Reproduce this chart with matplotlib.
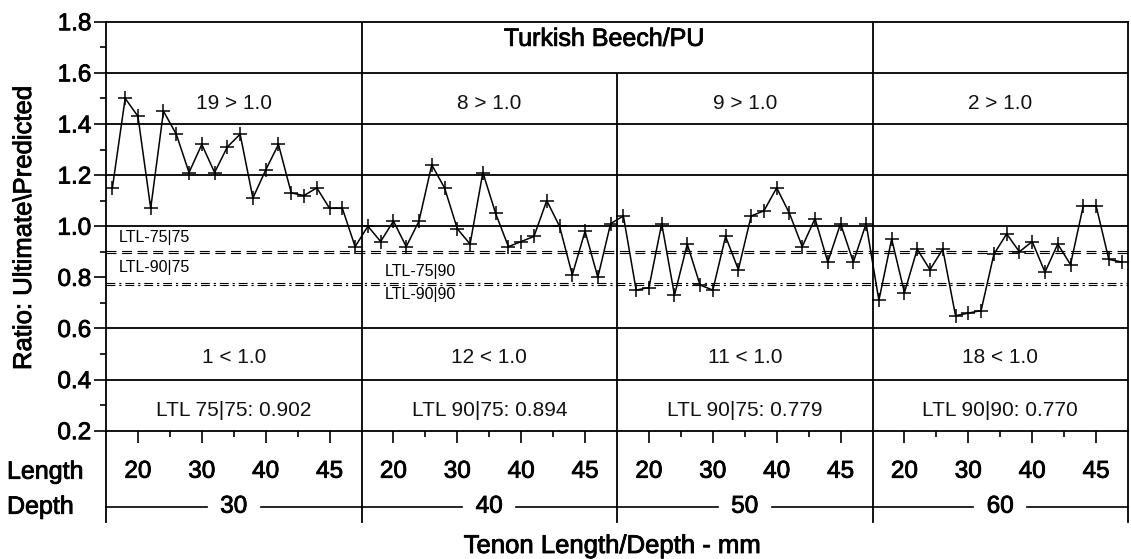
import numpy as np
import matplotlib
matplotlib.use("Agg")
import matplotlib.pyplot as plt
from matplotlib.lines import Line2D
import matplotlib.transforms as mtransforms
import matplotlib.patheffects as pe

plt.rcParams['font.family'] = ['Liberation Sans', 'DejaVu Sans']

# ---- data ----
depths = ["30", "40", "50", "60"]
length_labels = ["20", "30", "40", "45"]
ratio_d30 = [1.15, 1.50, 1.43, 1.07, 1.45, 1.36, 1.21, 1.32, 1.21, 1.31,
             1.36, 1.11, 1.22, 1.32, 1.13, 1.12, 1.15, 1.07, 1.07, 0.92]
ratio_d40 = [1.00, 0.94, 1.02, 0.92, 1.02, 1.24, 1.15, 0.99, 0.93, 1.21,
             1.05, 0.92, 0.94, 0.96, 1.10, 1.00, 0.81, 0.98, 0.80, 1.01]
ratio_d50 = [1.04, 0.75, 0.76, 1.01, 0.73, 0.93, 0.77, 0.75, 0.96, 0.83,
             1.04, 1.06, 1.15, 1.05, 0.92, 1.03, 0.86, 1.01, 0.86, 1.01]
ratio_d60 = [0.71, 0.95, 0.74, 0.91, 0.83, 0.91, 0.65, 0.66, 0.67, 0.89,
             0.97, 0.90, 0.94, 0.82, 0.93, 0.85, 1.08, 1.08, 0.87, 0.86]
gt_labels = ["19 > 1.0", "8 > 1.0", "9 > 1.0", "2 > 1.0"]
lt_labels = ["1 < 1.0", "12 < 1.0", "11 < 1.0", "18 < 1.0"]
ltl_cell_labels = ["LTL 75|75: 0.902", "LTL 90|75: 0.894", "LTL 90|75: 0.779", "LTL 90|90: 0.770"]
ltl_75_75 = 0.902
ltl_90_75 = 0.894
ltl_75_90 = 0.779
ltl_90_90 = 0.770
title = "Turkish Beech/PU"

values = ratio_d30 + ratio_d40 + ratio_d50 + ratio_d60
n_per = len(ratio_d30)
n_sec = len(depths)
x = np.arange(len(values)) + 0.5

heavy = [pe.withStroke(linewidth=0.6, foreground='k')]

W, H = 1131, 559
fig = plt.figure(figsize=(W / 100, H / 100), dpi=100)
left, right, top, bottom = 106, 1128, 21.7, 430.7
ax = fig.add_axes([left / W, 1 - bottom / H, (right - left) / W, (bottom - top) / H])
ax.set_xlim(0, n_per * n_sec)
ax.set_ylim(0.2, 1.8)

lw_grid = 1.3
for s in ax.spines.values():
    s.set_linewidth(lw_grid)

# horizontal cell lines
for yv in [1.6, 1.4, 1.2, 1.0, 0.6, 0.4]:
    ax.axhline(yv, color='k', lw=lw_grid, zorder=1)
# vertical section lines
ax.vlines([n_per, 3 * n_per], 0.2, 1.8, color='k', lw=lw_grid, zorder=1)
ax.vlines([2 * n_per], 0.2, 1.6, color='k', lw=lw_grid, zorder=1)

# LTL lines
ax.axhline(ltl_75_75, color='k', lw=0.8, ls=(0, (9, 5)), zorder=2)
ax.axhline(ltl_90_75, color='k', lw=0.8, ls=(0, (9, 5)), zorder=2)
ax.axhline(ltl_75_90, color='k', lw=0.8, ls=(0, (8, 3.5, 2, 3.5)), zorder=2)
ax.axhline(ltl_90_90, color='k', lw=0.8, ls=(0, (8, 3.5, 2, 3.5)), zorder=2)

# data
ax.plot(x, values, color='k', lw=1.1, marker='+', ms=9.5, mew=1.1, zorder=3)

# y axis
ax.set_yticks(np.arange(0.2, 1.81, 0.2))
ax.set_yticklabels([f"{v:.1f}" for v in np.arange(0.2, 1.81, 0.2)])
ax.set_yticks(np.arange(0.2, 1.81, 0.1), minor=True)
ax.tick_params(axis='y', which='major', length=8.6, width=1.2, labelsize=17.5, pad=2)
ax.tick_params(axis='y', which='minor', length=4.3, width=1.2)
for lbl in ax.get_yticklabels():
    lbl.set_path_effects(heavy)

# x axis ticks
major = []
minor = []
for k in range(n_sec):
    base = k * n_per
    major += [base + 2.5, base + 7.5, base + 12.5, base + 17.5]
    minor += [base + 5, base + 10, base + 15]
ax.set_xticks(major)
ax.set_xticklabels([])
ax.set_xticks(minor, minor=True)
ax.tick_params(axis='x', which='major', length=8.6, width=1.2, direction='out')
ax.tick_params(axis='x', which='minor', length=4.3, width=1.2, direction='out')

trans = mtransforms.blended_transform_factory(ax.transData, ax.transAxes)
ah = bottom - top
y_len = -(471.7 - bottom) / ah
y_dep = -(506.7 - bottom) / ah
y_end = -(521.7 - bottom) / ah

for k in range(n_sec + 1):
    ax.add_line(Line2D([k * n_per, k * n_per], [0, y_end], transform=trans,
                       color='k', lw=lw_grid, clip_on=False))

for k in range(n_sec):
    base = k * n_per
    for p, lab in zip([2.5, 7.5, 12.5, 17.5], length_labels):
        ax.text(base + p, y_len, lab, transform=trans, ha='center', va='center',
                fontsize=17.5, path_effects=heavy)
    c = base + n_per / 2
    ax.text(c, y_dep, depths[k], transform=trans, ha='center', va='center',
            fontsize=17.5, path_effects=heavy)
    ax.add_line(Line2D([base, c - 2.1], [y_dep, y_dep], transform=trans,
                       color='k', lw=1.2, clip_on=False))
    ax.add_line(Line2D([c + 2.1, base + n_per], [y_dep, y_dep], transform=trans,
                       color='k', lw=1.2, clip_on=False))
    # cell labels
    ax.text(c, 1.48, gt_labels[k], ha='center', va='center', fontsize=15, color='#111111')
    ax.text(c, 0.485, lt_labels[k], ha='center', va='center', fontsize=15, color='#111111')
    ax.text(c, 0.28, ltl_cell_labels[k], ha='center', va='center', fontsize=15, color='#111111')

ax.text(39, 1.733, title, ha='center', va='center', fontsize=18, path_effects=heavy)

ax.text(1.0, 0.954, "LTL-75|75", ha='left', va='center', fontsize=11.5)
ax.text(1.0, 0.84, "LTL-90|75", ha='left', va='center', fontsize=11.5)
ax.text(21.8, 0.822, "LTL-75|90", ha='left', va='center', fontsize=11.5)
ax.text(21.8, 0.731, "LTL-90|90", ha='left', va='center', fontsize=11.5)

fig.text(7 / W, 1 - 471.7 / H, "Length", ha='left', va='center', fontsize=18, path_effects=heavy)
fig.text(7 / W, 1 - 506.7 / H, "Depth", ha='left', va='center', fontsize=18, path_effects=heavy)
fig.text(612.5 / W, 1 - 546 / H, "Tenon Length/Depth - mm", ha='center', va='center',
         fontsize=18.5, path_effects=heavy)
fig.text(24 / W, 1 - 227.5 / H, "Ratio: Ultimate\\Predicted", ha='center', va='center',
         rotation=90, fontsize=18.5, path_effects=heavy)

fig.savefig("out.png", dpi=100)
